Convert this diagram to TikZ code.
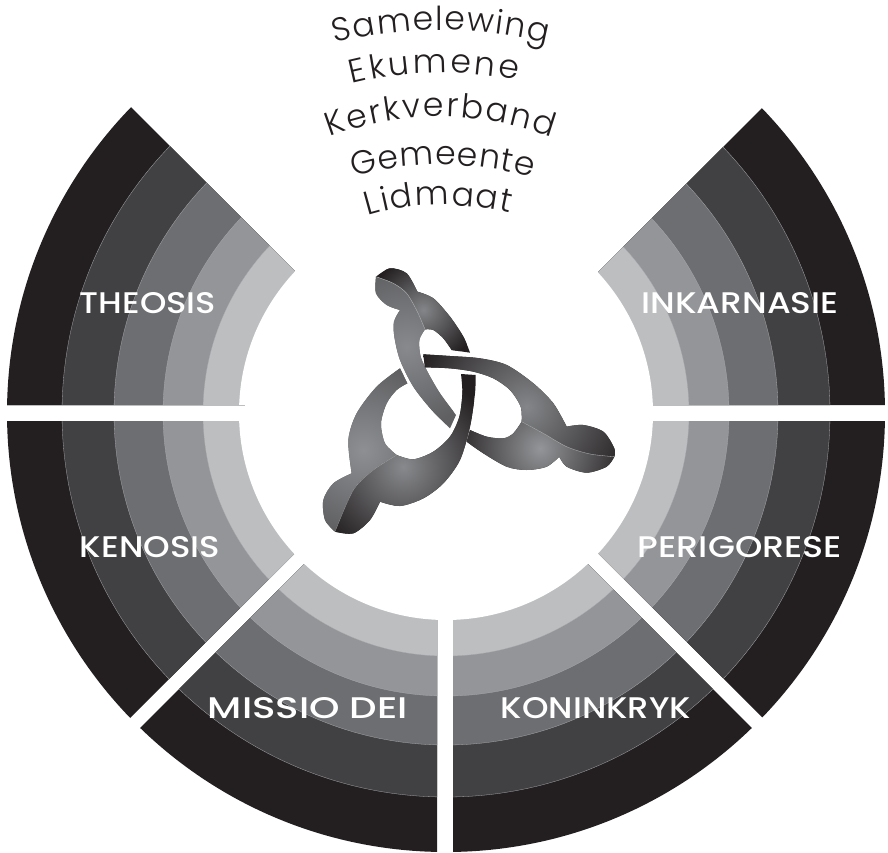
\documentclass[tikz,border=0pt]{standalone}
\usepackage{fontspec}
\usepackage{graphicx}
\usetikzlibrary{decorations.text}
\newfontfamily\labelfont{Poppins Medium}
\newfontfamily\wordfont{Poppins Light}
\definecolor{ringA}{HTML}{231F20}
\definecolor{ringB}{HTML}{414042}
\definecolor{ringC}{HTML}{6D6E71}
\definecolor{ringD}{HTML}{939598}
\definecolor{ringE}{HTML}{BCBEC0}
\definecolor{ringline}{HTML}{A7A9AC}
\newcommand{\ringset}{%
  \fill[ringA] (446,413) circle (439);
  \filldraw[ringB,draw=ringline,line width=.3pt] (446,413) circle (384);
  \filldraw[ringC,draw=ringline,line width=.3pt] (446,413) circle (332);
  \filldraw[ringD,draw=ringline,line width=.3pt] (446,413) circle (283);
  \filldraw[ringE,draw=ringline,line width=.3pt] (446,413) circle (243);
}
\newcommand{\sector}[1]{\begin{scope}\clip #1 -- cycle; \ringset\end{scope}}
\newcommand{\facet}[5]{% path, base, inner, centre, radius
  \begin{scope}\clip #1;
    \fill[#2] (-50,-50) rectangle (1050,950);
    \shade[inner color=#3,outer color=#2] #4 circle (#5);
  \end{scope}}
\newcommand{\curvedword}[2]{\path[decorate,decoration={text along path,text align={fit to path},
  text={|\wordfont\fontsize{33}{33}\selectfont\color{ringA}|#1}}] #2;}
\newcommand{\ringlabel}[5]{\node[text=white,inner sep=0pt] (#1) at (#2,#3) {\resizebox{#4pt}{21pt}{\labelfont #5}};}
\def\Aright{plot[smooth] coordinates {(228,80)(270,55)(320,70)(352,125)} -- plot[smooth] coordinates {(352,125)(400,145)(450,200)(490,260)(510,308)} -- plot[smooth] coordinates {(455,300)(430,265)(400,240)(375,238)} -- plot[smooth] coordinates {(375,238)(352,185)(320,130)(280,100)(228,80)} -- cycle}
\def\Aleft{plot[smooth] coordinates {(375,238)(358,270)(362,320)(385,370)(420,430)(468,495)} -- plot[smooth] coordinates {(450,535)(395,480)(340,410)(300,330)(283,260)(282,215)(300,180)} -- plot[smooth] coordinates {(300,180)(260,165)(228,130)(228,80)} -- plot[smooth] coordinates {(228,80)(280,100)(320,130)(352,185)(375,238)} -- cycle}
\def\Bupper{plot[smooth] coordinates {(370,313)(450,318)(540,325)(620,345)(700,400)(760,460)(800,530)} -- plot[smooth] coordinates {(800,530)(850,525)(910,545)(943,595)(943,620)} -- plot[smooth] coordinates {(943,620)(870,612)(800,590)(730,550)(665,515)} -- plot[smooth] coordinates {(665,515)(662,470)(630,420)(580,385)(520,365)(450,355)(375,352)} -- cycle}
\def\Blower{plot[smooth] coordinates {(665,515)(730,550)(800,590)(870,612)(943,620)} -- plot[smooth] coordinates {(943,620)(920,650)(860,668)(800,650)(778,620)} -- plot[smooth] coordinates {(778,620)(740,650)(680,660)(620,650)(550,610)(500,575)} -- plot[smooth] coordinates {(510,540)(560,560)(610,565)(640,550)(665,515)} -- cycle}
\def\Cleft{plot[smooth] coordinates {(300,355)(230,410)(170,490)(145,570)(155,670)} -- plot[smooth] coordinates {(155,670)(100,700)(70,750)(75,810)(105,845)} -- plot[smooth] coordinates {(105,845)(160,720)(220,660)(290,615)} -- plot[smooth] coordinates {(290,615)(255,580)(243,520)(260,460)(290,420)(322,400)} -- cycle}
\def\Cright{plot[smooth] coordinates {(290,615)(220,660)(160,720)(105,845)} -- plot[smooth] coordinates {(105,845)(160,850)(210,810)(240,755)} -- plot[smooth] coordinates {(240,755)(300,768)(370,745)(430,700)(480,630)(510,530)(525,430)(527,375)} -- plot[smooth] coordinates {(483,372)(487,430)(478,500)(450,560)(400,605)(340,628)(290,615)} -- cycle}
\begin{document}
\begin{tikzpicture}[x=1pt,y=-1pt]
\useasboundingbox (0,0) rectangle (888,852);
% sectors
\sector{(429,405) -- (-10,405) -- (-10,-34)}
\sector{(465,405) -- (900,405) -- (900,-30)}
\sector{(427,421) -- (-10,421) -- (-10,858)}
\sector{(437,431) -- (437,860) -- (8,860)}
\sector{(453,429) -- (453,860) -- (884,860)}
\sector{(466,421) -- (890,421) -- (890,845)}
\fill[white] (446,413) circle (207);
\draw[ringE,line width=.8pt] (7,405) -- (245,405);
% knot
\begin{scope}[shift={(300,250)},x=.33333pt,y=-.33333pt]
\facet{\Aright}{ringA}{ringD!60!ringC}{(370,180)}{165}
\facet{\Aleft}{ringC!70!ringB}{ringD!70!ringC}{(320,290)}{240}
\facet{\Bupper}{ringA}{ringD!60!ringC}{(680,470)}{350}
\facet{\Blower}{ringA}{ringD}{(720,595)}{270}
\facet{\Cleft}{ringC!60!ringB}{ringD!85!ringC}{(190,600)}{280}
\facet{\Cright}{ringA}{ringD!70!ringC}{(310,650)}{290}
\draw[ringE,line width=.3pt] plot[smooth] coordinates {(228,80)(280,100)(320,130)(352,185)(375,238)};
\draw[ringE,line width=.3pt] plot[smooth] coordinates {(665,515)(730,550)(800,590)(870,612)(943,620)};
\draw[ringE,line width=.2pt] plot[smooth] coordinates {(290,615)(220,660)(160,720)(105,845)};
\end{scope}
% sector labels
\ringlabel{theosis}{148}{303}{136}{THEOSIS}
\ringlabel{inkarnasie}{740}{303}{197}{INKARNASIE}
\ringlabel{kenosis}{150}{547}{140}{KENOSIS}
\ringlabel{perigorese}{740}{547}{204}{PERIGORESE}
\ringlabel{missio}{308}{708}{200}{MISSIO DEI}
\ringlabel{koninkryk}{596}{708}{190}{KONINKRYK}
% curved words
\curvedword{Samelewing}{(335,43) .. controls (405,25.7) and (475,25.7) .. (547,43)}
\curvedword{Ekumene}{(352,84) .. controls (407,70) and (462,70) .. (518,80)}
\curvedword{Kerkverband}{(330,137) .. controls (401,110) and (475,110) .. (552,137)}
\curvedword{Gemeente}{(354,177) .. controls (410,161) and (470,161) .. (532,177)}
\curvedword{Lidmaat}{(368,216) .. controls (414,202) and (460,202) .. (510,213)}
\end{tikzpicture}
\end{document}
